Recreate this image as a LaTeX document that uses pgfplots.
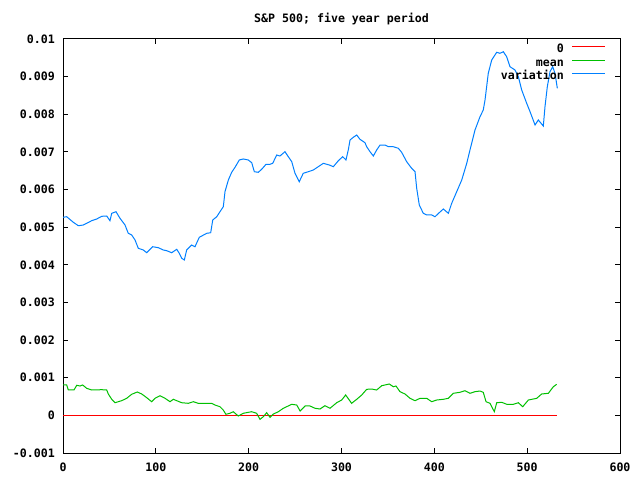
\documentclass[border=0pt]{standalone}
\usepackage{pgfplots}
\pgfplotsset{compat=1.18}
\usepackage{fontspec}
\setmainfont{DejaVu Sans Mono}
\definecolor{gpgreen}{RGB}{0,192,0}
\definecolor{gpblue}{RGB}{0,128,255}
\begin{document}
\begin{tikzpicture}
\useasboundingbox (0,0) rectangle (640pt,480pt);
\fill[white] (0,0) rectangle (640pt,480pt);
\begin{axis}[
  at={(63pt,27pt)}, anchor=south west,
  scale only axis, width=557pt, height=414pt,
  xmin=0, xmax=600, ymin=-0.001, ymax=0.01,
  xtick={0,100,200,300,400,500,600},
  xticklabels={0,100,200,300,400,500,600},
  ytick={-0.001,0,0.001,0.002,0.003,0.004,0.005,0.006,0.007,0.008,0.009,0.01},
  yticklabels={-0.001,0,0.001,0.002,0.003,0.004,0.005,0.006,0.007,0.008,0.009,0.01},
  scaled y ticks=false,
  tick align=inside, major tick length=5pt, minor tick num=0,
  tick style={black, line width=1pt},
  axis line style={black, line width=1pt},
  font=\fontsize{11.6}{14}\selectfont\bfseries,
  yticklabel style={anchor=east, inner sep=0pt, xshift=-8pt},
  xticklabel style={anchor=base, inner sep=0pt, yshift=-18pt},
  title={S\&P 500; five year period},
  title style={at={(0.5,1)}, anchor=base, inner sep=0pt, yshift=10pt},
  legend cell align=right,
  legend plot pos=right,
  legend image code/.code={\draw[#1] (0pt,3.5pt) -- (33pt,3.5pt);},
  legend style={draw=none, fill=none, at={(1,1)}, anchor=north east,
    xshift=-14pt, yshift=-4.5pt, inner sep=0pt, row sep=0pt, column sep=8pt,
    nodes={inner sep=0pt, text height=9pt, text depth=4.5pt},
    font=\fontsize{11.6}{14}\selectfont\bfseries},
]
\addplot[color=red, line width=1pt] coordinates {(0,0) (532,0)};
\addlegendentry{0}
\addplot[color=gpgreen, line width=1pt] coordinates {
(0,0.000807) (4,0.000807) (5.7,0.000674) (11.8,0.000674) (14.8,0.000799) (18.3,0.00078)
(21.2,0.000807) (25.5,0.000719) (30.9,0.000674) (41.7,0.000682) (47.1,0.000674)
(48.8,0.000568) (52.5,0.000427) (56.0,0.000336) (63.2,0.00039) (68.6,0.000453)
(74.0,0.00056) (80.0,0.000621) (84.8,0.000568) (90.2,0.000469) (95.5,0.000363)
(99.1,0.000453) (104.5,0.000522) (109.9,0.000453) (115.3,0.000363) (118.8,0.000427)
(122.5,0.00039) (127.9,0.000336) (135.0,0.00032) (140.4,0.000363) (145.7,0.00032)
(160.2,0.00032) (163.7,0.000275) (169.1,0.00023) (172.6,0.000142) (175.5,0.000028)
(179.8,0.000055) (183.4,0.000097) (188.8,-0.000017) (194.2,0.000055) (199.6,0.000081)
(203.3,0.000097) (208.6,0.000055) (212.2,-0.000105) (215.8,-0.000035) (219.4,0.000071)
(223,-0.000052) (226.6,0.000036) (232,0.000097) (237.3,0.000188) (246.4,0.000294)
(251.8,0.000275) (255.4,0.000116) (260.8,0.000249) (266.1,0.000249) (271.5,0.000188)
(276.8,0.000169) (282.2,0.000257) (287.6,0.000188) (294.8,0.000336) (300.2,0.000408)
(304.5,0.000541) (310.9,0.00032) (316.4,0.000427) (321.8,0.000541) (327.1,0.000692)
(332.5,0.0007) (337.9,0.000674) (343.3,0.000788) (351.5,0.000833) (355.8,0.000761)
(358.7,0.00078) (363,0.000629) (368.4,0.000568) (373.8,0.000453) (379.2,0.00039)
(384.6,0.000453) (391.8,0.000453) (397.2,0.000363) (402.6,0.000408) (409.7,0.000427)
(415.1,0.000453) (420.4,0.000586) (427.6,0.000613) (433,0.000655) (438.4,0.000586)
(443.8,0.000629) (449.2,0.000647) (452.7,0.000613) (455.7,0.000363) (460,0.00032)
(464.6,0.000097) (467.2,0.000336) (472.6,0.000347) (478,0.000294) (485.1,0.000294)
(490.5,0.000336) (495.2,0.00023) (501.3,0.000408) (510.3,0.000453) (515.6,0.000568)
(522.8,0.000586) (528.2,0.000761) (531.8,0.000825)
};
\addlegendentry{mean}
\addplot[color=gpblue, line width=1pt] coordinates {
(0,0.005263) (4.0,0.005278) (11.1,0.005130) (16.5,0.005039) (21.9,0.005058) (25.5,0.005103)
(30.9,0.005172) (36.3,0.005217) (41.7,0.005289) (47.1,0.005297) (50.6,0.005172)
(52.5,0.005369) (57.1,0.005411) (61.4,0.005236) (66.8,0.005058) (70.3,0.004837)
(74.0,0.004792) (77.6,0.004659) (81.1,0.004439) (86.5,0.004394) (90.2,0.004322)
(96.6,0.004481) (102.7,0.004455) (108.0,0.004394) (111.7,0.004375) (117.1,0.004322)
(122.5,0.004412) (125.3,0.004306) (127.9,0.004173) (130.7,0.004128) (133.2,0.004394)
(138.6,0.004526) (142.2,0.004481) (146.8,0.004731) (154.8,0.004837) (159.1,0.004853)
(161.3,0.005191) (165.6,0.005278) (169.1,0.005411) (172.7,0.005544) (174.5,0.005943)
(178.1,0.006253) (181.7,0.006458) (185.3,0.006591) (189.9,0.006785) (194.2,0.006812)
(199.6,0.006785) (203.3,0.006713) (206.1,0.006474) (210.4,0.006458) (214.0,0.006538)
(218.7,0.006671) (223.0,0.006671) (225.9,0.006697) (230.2,0.006918) (233.7,0.006891)
(239.1,0.007006) (242.7,0.006873) (246.4,0.006740) (249.9,0.006432) (254.5,0.006208)
(258.8,0.006432) (264.2,0.006474) (269.6,0.006519) (275.0,0.006607) (280.4,0.006697)
(286.9,0.006652) (291.2,0.006607) (296.6,0.006766) (301.3,0.006873) (304.8,0.006785)
(307.3,0.007051) (309.2,0.007316) (312.7,0.007388) (316.4,0.007449) (319.9,0.007335)
(325.3,0.007245) (327.1,0.007138) (330.7,0.007006) (334.3,0.006891) (337.9,0.007051)
(341.5,0.007183) (346.9,0.007183) (350.4,0.007138) (355.8,0.007138) (361.2,0.007096)
(364.8,0.006990) (370.2,0.006740) (375.6,0.006564) (379.2,0.006474) (381.0,0.006033)
(383.8,0.005589) (388.1,0.005369) (391.8,0.005324) (397.2,0.005324) (400.7,0.005278)
(405.3,0.005385) (409.7,0.005483) (415.1,0.005369) (418.7,0.005634) (424.1,0.005943)
(429.5,0.006253) (434.9,0.006697) (438.4,0.007051) (443.8,0.007582) (449.2,0.007935)
(452.7,0.008113) (454.6,0.008379) (458.1,0.009088) (461.8,0.009442) (467.2,0.009647)
(470.7,0.009620) (474.3,0.009662) (477.9,0.009530) (481.5,0.009264) (486.9,0.009176)
(490.5,0.008998) (494.1,0.008645) (499.5,0.008291) (503.1,0.008068) (508.5,0.007715)
(512.0,0.007848) (517.4,0.007688) (519.2,0.008201) (521.7,0.008733) (524.6,0.009131)
(527.5,0.009264) (530.0,0.009088) (532.5,0.008690)
};
\addlegendentry{variation}
\end{axis}
\end{tikzpicture}
\end{document}
